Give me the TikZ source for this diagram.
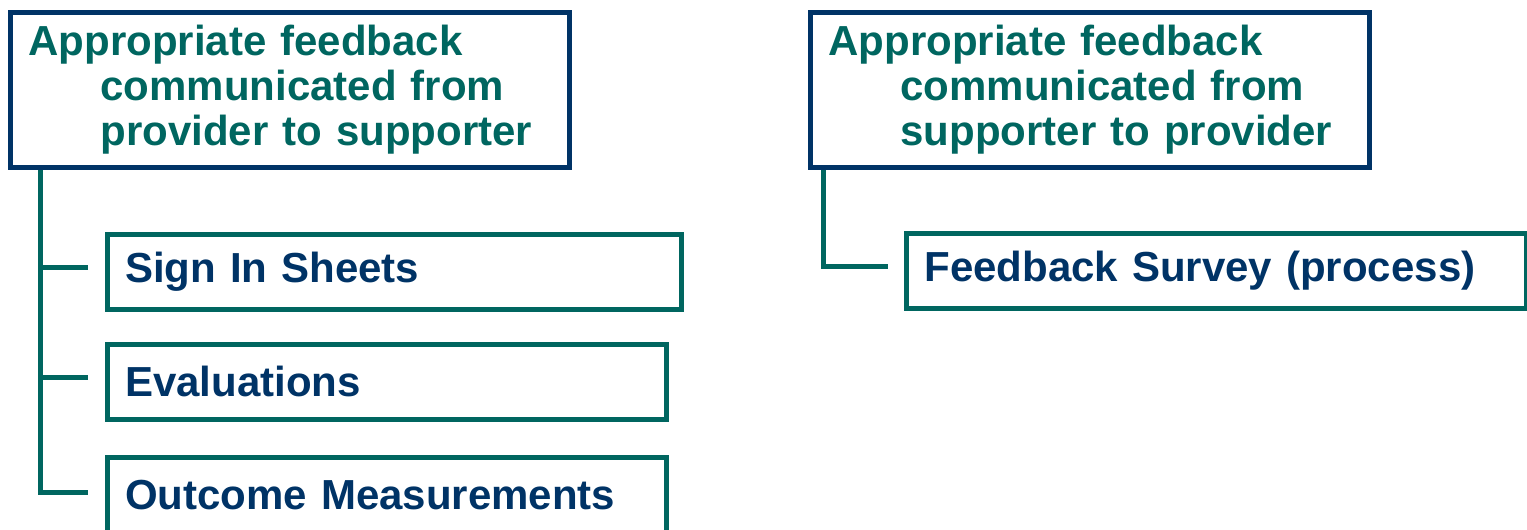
\documentclass[tikz,border=0pt]{standalone}
\usepackage{fontspec}
\setmainfont{Liberation Sans}
\definecolor{navyblue}{HTML}{003366}
\definecolor{darkteal}{HTML}{006660}
\tikzset{
  headbox/.style={draw=navyblue, line width=3.75pt, anchor=north west, inner xsep=13.5pt,
    text width=392.25pt, minimum height=116pt, align=left, text=darkteal,
    font=\fontsize{31.5}{33.75}\selectfont\bfseries},
  childbox/.style={draw=darkteal, line width=3.75pt, anchor=north west, inner xsep=13.5pt,
    text width=#1, minimum height=56pt, align=left, text=navyblue,
    font=\fontsize{31.5}{33.75}\selectfont\bfseries},
  link/.style={draw=darkteal, line width=3.75pt}
}
\begin{document}
\begin{tikzpicture}[x=0.75pt,y=-0.75pt]
		\clip (0,0) rectangle (1527,529);
		% two head boxes
		\node[headbox] (prov) at (8,10) {Appropriate feedback\\\hspace*{54pt}communicated from\\\hspace*{54pt}provider to supporter};
		\node[headbox] (supp) at (808,10) {Appropriate feedback\\\hspace*{54pt}communicated from\\\hspace*{54pt}supporter to provider};
		% items
		\node[childbox=404pt] (sign) at (104.5,232) {Sign In Sheets};
		\node[childbox=392.6pt] (eval) at (104.5,342) {Evaluations};
		\node[childbox=392.6pt] (outc) at (104.5,455) {Outcome Measurements};
		\node[childbox=438pt] (surv) at (904,231) {Feedback Survey (process)};
		% tree lines
		\draw[link] ([xshift=24pt]prov.south west) |- ([xshift=-12.4pt,yshift=2pt]outc.west);
		\foreach \n in {sign,eval}
		{
			\draw[link] ([xshift=24pt,yshift=3pt]prov.south west |- \n.west) -- ([xshift=-12.4pt,yshift=3pt]\n.west);
		}
		\draw[link] ([xshift=11.25pt]supp.south west) |- ([xshift=-12pt,yshift=3pt]surv.west);
\end{tikzpicture}
\end{document}
